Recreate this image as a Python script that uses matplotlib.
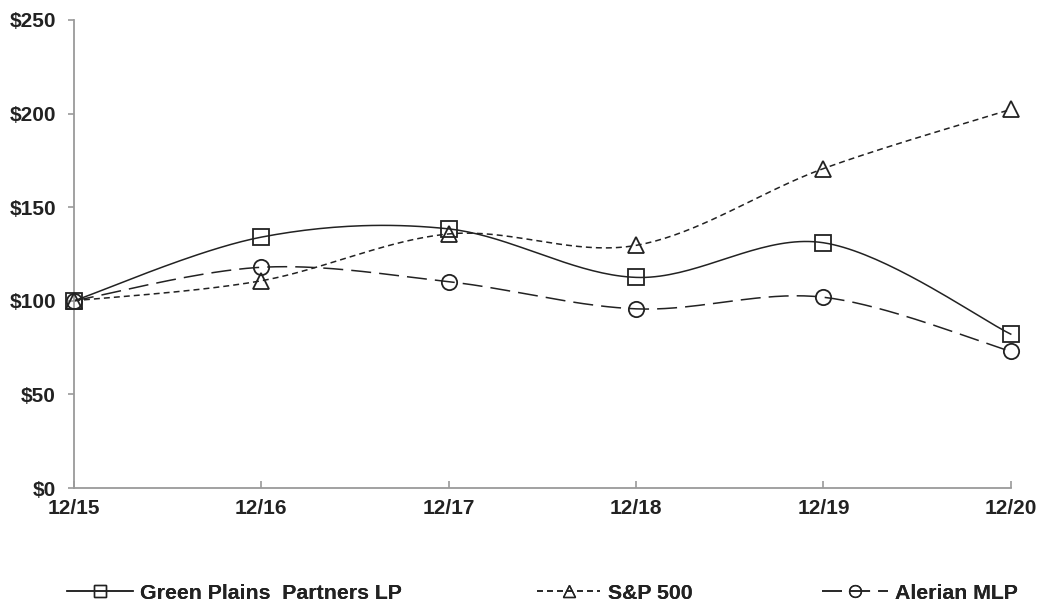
import numpy as np
import matplotlib
matplotlib.use("Agg")
import matplotlib.pyplot as plt
from matplotlib.lines import Line2D

categories = ["12/15", "12/16", "12/17", "12/18", "12/19", "12/20"]
green_plains = [100.0, 134.0, 138.4, 112.5, 131.0, 82.2]
sp500 = [100.0, 110.7, 135.7, 129.6, 170.6, 202.2]
alerian = [100.0, 117.9, 110.2, 95.7, 101.9, 73.0]
series_names = ["Green Plains  Partners LP", "S&P 500", "Alerian MLP"]
y_ticks = [0, 50, 100, 150, 200, 250]
y_tick_labels = ["$0", "$50", "$100", "$150", "$200", "$250"]

plt.rcParams['font.family'] = ['Liberation Sans', 'DejaVu Sans']
plt.rcParams['lines.scale_dashes'] = False

INK = "#222222"
AXIS = "#9a9a9a"


def smooth(xs, ys, n=40):
    xs = np.asarray(xs, float)
    ys = np.asarray(ys, float)
    px = np.concatenate([[xs[0]], xs, [xs[-1]]])
    py = np.concatenate([[ys[0]], ys, [ys[-1]]])
    outx, outy = [], []
    t = np.linspace(0, 1, n)
    for i in range(1, len(px) - 2):
        p0 = np.array([px[i - 1], py[i - 1]])
        p1 = np.array([px[i], py[i]])
        p2 = np.array([px[i + 1], py[i + 1]])
        p3 = np.array([px[i + 2], py[i + 2]])
        c1 = p1 + (p2 - p0) / 6.0
        c2 = p2 - (p3 - p1) / 6.0
        b = ((1 - t) ** 3)[:, None] * p1 + (3 * (1 - t) ** 2 * t)[:, None] * c1 \
            + (3 * (1 - t) * t ** 2)[:, None] * c2 + (t ** 3)[:, None] * p2
        outx.extend(b[:, 0])
        outy.extend(b[:, 1])
    return np.array(outx), np.array(outy)


fig = plt.figure(figsize=(10.42, 6.04), dpi=100)
ax = fig.add_axes([0.071, 0.192, 0.899, 0.775])

x = np.arange(len(categories))
lw = 1.1
styles = [
    dict(ls="-", marker="s", ms=11),
    dict(ls=(0, (4.3, 2.9)), marker="^", ms=11),
    dict(ls=(0, (14.4, 5.8)), marker="o", ms=11),
]
for vals, st in zip([green_plains, sp500, alerian], styles):
    sx, sy = smooth(x, vals)
    ax.plot(sx, sy, color=INK, lw=lw, ls=st["ls"], zorder=2, clip_on=False)
    ax.plot(x, vals, ls="none", marker=st["marker"], ms=st["ms"],
            mfc="none", mec=INK, mew=1.3, zorder=3, clip_on=False)

ax.set_xlim(0, 5)
ax.set_ylim(0, 250)
ax.set_xticks(x)
ax.set_xticklabels(categories)
ax.set_yticks(y_ticks)
ax.set_yticklabels(y_tick_labels)
for s in ["top", "right"]:
    ax.spines[s].set_visible(False)
for s in ["left", "bottom"]:
    ax.spines[s].set_color(AXIS)
    ax.spines[s].set_linewidth(1.3)
ax.tick_params(axis="y", direction="out", length=4, width=1.2, color=AXIS,
               pad=9, labelsize=15, labelcolor=INK)
ax.tick_params(axis="x", direction="in", length=5, width=1.2, color=AXIS,
               pad=8, labelsize=15, labelcolor=INK)
for lab in ax.get_xticklabels() + ax.get_yticklabels():
    lab.set_fontweight("bold")
ax.patch.set_alpha(0)

# Legend: three separate entries with individual handle lengths
leg_specs = [
    (series_names[0], styles[0], 3.1, 0.0643),
    (series_names[1], styles[1], 3.0, 0.515),
    (series_names[2], styles[2], 3.1, 0.789),
]
for name, st, hl, xpos in leg_specs:
    h = Line2D([], [], color=INK, lw=lw, ls=st["ls"], marker=st["marker"],
               ms=8.5, mfc="none", mec=INK, mew=1.0)
    lg = fig.legend([h], [name], loc="center left", bbox_to_anchor=(xpos, 0.018),
                    frameon=False, handlelength=hl, handletextpad=0.35,
                    borderaxespad=0, borderpad=0,
                    prop=dict(size=15.3, weight="bold"))
    for t in lg.get_texts():
        t.set_color(INK)
    fig.add_artist(lg)

fig.savefig("out.png", dpi=100)
